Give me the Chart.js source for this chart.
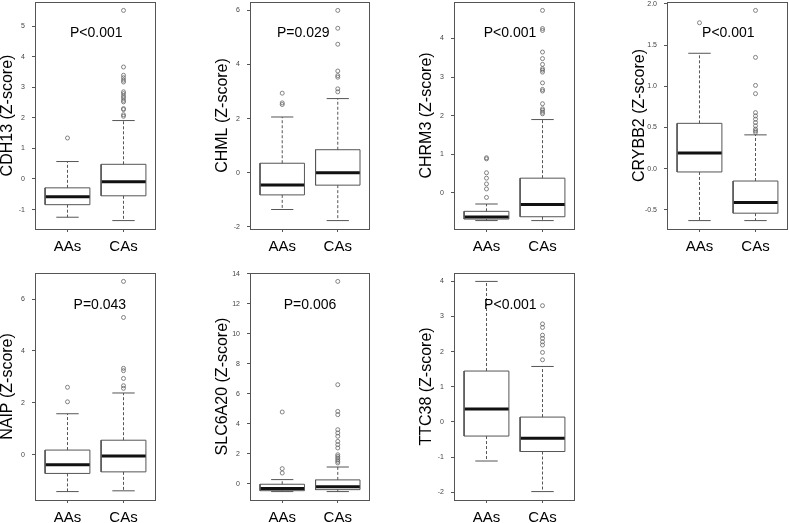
<!DOCTYPE html>
<html>
<head>
<meta charset="utf-8">
<script src="https://cdn.jsdelivr.net/npm/chart.js@4.4.1/dist/chart.umd.min.js"></script>
<style>
html, body { margin: 0; padding: 0; background: #fff; overflow: hidden; }
body { width: 789px; height: 523px; position: relative; }
canvas { position: absolute; }
</style>
</head>
<body>
<script>
// data
const genes = ['CDH13', 'CHML', 'CHRM3', 'CRYBB2', 'NAIP', 'SLC6A20', 'TTC38'];
const groups = ['AAs', 'CAs'];
const pLabels = ['P<0.001', 'P=0.029', 'P<0.001', 'P<0.001', 'P=0.043', 'P=0.006', 'P<0.001'];
const tickStep = [1, 2, 1, 0.5, 2, 2, 1];

// [lower whisker, Q1, median, Q3, upper whisker]
const aaStats = [
    [-1.25, -0.84, -0.58, -0.29, 0.57],
    [-1.36, -0.82, -0.45, 0.35, 2.06],
    [-0.72, -0.68, -0.63, -0.48, -0.29],
    [-0.63, -0.04, 0.19, 0.55, 1.40],
    [-1.42, -0.72, -0.39, 0.18, 1.58],
    [-0.53, -0.47, -0.33, -0.04, 0.27],
    [-1.11, -0.40, 0.37, 1.45, 4.00]
];
const caStats = [
    [-1.36, -0.55, -0.09, 0.48, 1.91],
    [-1.77, -0.46, 0.00, 0.85, 2.74],
    [-0.72, -0.62, -0.30, 0.38, 1.90],
    [-0.63, -0.54, -0.41, -0.15, 0.41],
    [-1.39, -0.66, -0.05, 0.56, 2.38],
    [-0.53, -0.40, -0.20, 0.25, 1.11],
    [-1.98, -0.84, -0.46, 0.14, 1.58]
];
const aaOutliers = [
    [1.34],
    [2.52, 2.58, 2.94],
    [-0.12, 0.10, 0.23, 0.38, 0.52, 0.88, 0.91],
    [1.77],
    [2.04, 2.60],
    [0.71, 1.00, 4.78],
    []
];
const caOutliers = [
    [2.05, 2.10, 2.27, 2.30, 2.52, 2.57, 2.65, 2.71, 2.79, 2.85, 3.17, 3.23, 3.31, 3.39, 3.66, 5.51],
    [2.99, 3.10, 3.53, 3.59, 3.76, 4.75, 5.34, 6.00],
    [2.05, 2.09, 2.14, 2.18, 2.31, 2.64, 2.68, 2.85, 3.13, 3.18, 3.22, 3.33, 3.48, 3.65, 4.21, 4.26, 4.73],
    [0.44, 0.46, 0.48, 0.52, 0.56, 0.60, 0.64, 0.68, 0.91, 1.01, 1.35, 1.92],
    [2.56, 2.66, 2.94, 3.24, 3.33, 5.29, 6.68],
    [1.38, 1.49, 1.60, 1.71, 1.82, 1.93, 2.38, 2.60, 2.82, 3.16, 3.38, 3.60, 4.60, 4.82, 6.60, 13.49],
    [1.77, 1.98, 2.19, 2.28, 2.38, 2.47, 2.69, 2.79, 3.31]
];

// page layout (pixels)
const cols = [[35, 156], [250, 370], [454, 575], [667, 788]];
const rows = [
    { top: 0, fTop: 2, fBot: 229, bot: 263 },
    { top: 263, fTop: 273, fBot: 500, bot: 523 }
];
const pPos = [[0.506, 0.138], [0.444, 0.138], [0.463, 0.138], [0.507, 0.138],
              [0.536, 0.14], [0.5, 0.14], [0.466, 0.14]];
const AXIS_W = 35;
const FONT = '"Liberation Sans", Arial, sans-serif';
const LINE = '#555';

// build line pieces in data units, null breaks the line
const pieces = (list) => {
    const out = [];
    list.forEach(seg => {
        seg.forEach(p => out.push({ x: p[0], y: p[1] }));
        out.push({ x: seg[0][0], y: null });
    });
    return out;
};

const makeDatasets = (i) => {
    const boxes = [], medians = [], whiskers = [], caps = [], outs = [];
    [aaStats[i], caStats[i]].forEach((s, g) => {
        const x = g + 1;
        const [lo, q1, med, q3, hi] = s;
        boxes.push([[x - 0.4, q1], [x + 0.4, q1], [x + 0.4, q3], [x - 0.4, q3], [x - 0.4, q1]]);
        medians.push([[x - 0.4, med], [x + 0.4, med]]);
        whiskers.push([[x, q3], [x, hi]], [[x, q1], [x, lo]]);
        caps.push([[x - 0.2, hi], [x + 0.2, hi]], [[x - 0.2, lo], [x + 0.2, lo]]);
    });
    aaOutliers[i].forEach(v => outs.push({ x: 1, y: v }));
    caOutliers[i].forEach(v => outs.push({ x: 2, y: v }));

    const line = (data, extra) => Object.assign({
        type: 'line', data: pieces(data), borderColor: LINE, borderWidth: 1,
        pointRadius: 0, pointHitRadius: 0, fill: false, spanGaps: false, tension: 0
    }, extra);

    return [
        line(whiskers, { borderDash: [3, 2] }),
        line(caps, {}),
        line(boxes, { borderJoinStyle: 'miter' }),
        line(medians, { borderColor: '#111', borderWidth: 3 }),
        {
            type: 'scatter', data: outs, showLine: false,
            pointRadius: 2, pointBorderWidth: 0.8, pointBorderColor: '#666',
            pointBackgroundColor: 'rgba(0,0,0,0)'
        }
    ];
};

const framePlugin = {
    id: 'frame',
    afterDatasetsDraw(chart, args, opts) {
        const { ctx, chartArea: a } = chart;
        ctx.save();
        ctx.strokeStyle = LINE;
        ctx.lineWidth = 1;
        ctx.strokeRect(Math.round(a.left) + 0.5, Math.round(a.top) + 0.5,
            Math.round(a.width) - 1, Math.round(a.height));
        ctx.fillStyle = '#000';
        ctx.font = '14px ' + FONT;
        ctx.textAlign = 'center';
        ctx.textBaseline = 'middle';
        ctx.fillText(opts.text, a.left + opts.fx * a.width, a.top + opts.fy * a.height);
        ctx.restore();
    }
};

const zeroPad = (s) => { s.paddingTop = 0; s.paddingBottom = 0; s.paddingLeft = 0; s.paddingRight = 0; };

genes.forEach((gene, i) => {
    const [F, R] = cols[i % 4];
    const row = rows[Math.floor(i / 4)];
    const canvas = document.createElement('canvas');
    canvas.width = AXIS_W + (R - F) + 2;
    canvas.height = row.bot - row.top;
    canvas.style.left = (F - AXIS_W) + 'px';
    canvas.style.top = row.top + 'px';
    document.body.appendChild(canvas);

    const all = aaStats[i].concat(caStats[i], aaOutliers[i], caOutliers[i]);
    const lo = Math.min(...all), hi = Math.max(...all);
    const ext = (hi - lo) * 0.04;
    const step = tickStep[i];

    new Chart(canvas, {
        data: { datasets: makeDatasets(i) },
        plugins: [framePlugin],
        options: {
            responsive: false,
            animation: false,
            events: [],
            layout: { autoPadding: false, padding: { top: row.fTop - row.top, right: 2, left: 0, bottom: 0 } },
            plugins: {
                legend: { display: false },
                tooltip: { enabled: false },
                frame: { text: pLabels[i], fx: pPos[i][0], fy: pPos[i][1] }
            },
            scales: {
                x: {
                    type: 'linear', min: 0.42, max: 2.58,
                    afterBuildTicks: s => { s.ticks = groups.map((g, k) => ({ value: k + 1 })); },
                    afterFit: s => { s.height = row.bot - row.fBot; zeroPad(s); },
                    border: { display: false },
                    grid: { drawOnChartArea: false, drawTicks: true, tickLength: 3, color: LINE },
                    ticks: {
                        padding: 6, maxRotation: 0, autoSkip: false,
                        color: '#000', font: { family: FONT, size: 15 },
                        callback: v => groups[v - 1]
                    }
                },
                y: {
                    type: 'linear', min: lo - ext, max: hi + ext,
                    afterBuildTicks: s => {
                        const t = [];
                        for (let v = Math.ceil(s.min / step) * step; v <= s.max + 1e-9; v += step) {
                            t.push({ value: +v.toFixed(3) });
                        }
                        s.ticks = t;
                    },
                    afterFit: s => { s.width = AXIS_W; zeroPad(s); },
                    border: { display: false },
                    grid: { drawOnChartArea: false, drawTicks: true, tickLength: 3, color: LINE },
                    ticks: {
                        padding: 7, color: '#444', font: { family: FONT, size: 7 },
                        callback: v => step < 1 ? v.toFixed(1) : String(Math.round(v))
                    },
                    title: {
                        display: true, text: gene + ' (Z-score)', color: '#000',
                        padding: 0, font: { family: FONT, size: 16, lineHeight: 1 }
                    }
                }
            }
        }
    });
});
</script>
</body>
</html>
